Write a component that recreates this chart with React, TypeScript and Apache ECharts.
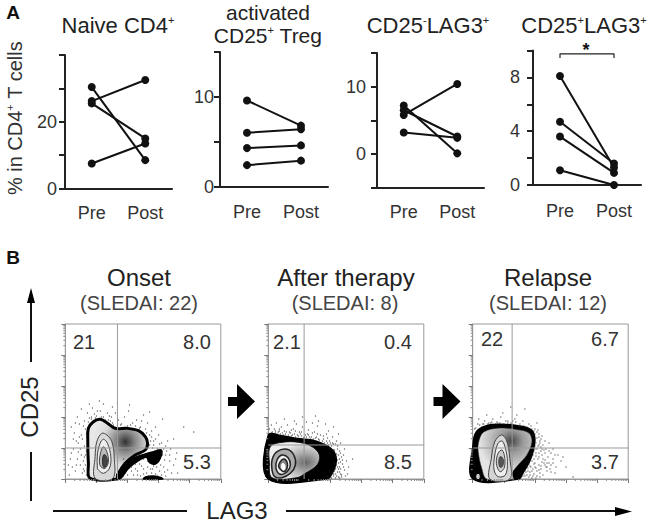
import React, { useEffect, useRef } from "react";
import * as echarts from "echarts";

const FONT = "Liberation Sans";
const categories = ["Pre", "Post"];

// Panel A: pre -> post pairs
const naiveSeries = [[30.4, 8.5], [25.5, 15], [26.2, 32.5], [7.5, 13.5]];
const tregSeries = [[9.6, 6.8], [6.0, 6.4], [4.3, 4.6], [2.4, 2.9]];
const cd25NegSeries = [[5.8, 10.4], [7.2, 0.1], [6.5, 2.6], [3.2, 2.4]];
const cd25PosSeries = [[8.1, 1.3], [4.7, 1.6], [3.6, 0.9], [1.1, 0.0]];
const bracketValues: [string, number][] = [["Pre", 9.44], ["Pre", 9.75], ["Post", 9.75], ["Post", 9.44]];

// Panel B: density outlines, in the plot's own 0-155 scale
const onsetOuter = [[24.7, 0.7], [23, 15.7], [22.4, 39], [23, 50.7], [28, 57.3], [34.7, 59.7], [41.4, 56.3], [49.7, 50.7], [61.4, 50.7], [73, 48.3], [79.7, 42.3], [82, 35.7], [79.7, 29], [69.7, 24], [59.7, 15.7], [52, 4], [51.4, 0]];
const onsetTail = [[51.4, 0.7], [59.7, 14], [69.7, 21.7], [82, 25.7], [88, 27.3], [95.7, 29], [94.7, 20.7], [89.7, 15], [84, 16.3], [80.7, 21.7], [73, 18.3], [63, 10.7], [55.4, 0.7]];
const onsetSpot = [[78, 0], [80, 2], [88, 3], [95, 1.5], [97, 0]];
const onsetR1 = [[29.7, 0.7], [29.7, 22.3], [31.4, 37.3], [36.4, 45.7], [41.4, 44], [46.4, 37.3], [48.7, 22.3], [47.4, 0.7]];
const onsetR2 = [[32, 10.7], [32, 24], [34.7, 35.7], [38, 39.7], [42, 35.7], [45.4, 22.3], [44, 10.7], [38, 5.7], [33, 9]];
const onsetR3 = [[34, 17.3], [35.4, 27.3], [38, 32.3], [41.4, 27.3], [43, 17.3], [39.7, 10.7], [35.4, 12.3]];
const onsetR4 = [[37, 18], [38, 24], [40, 24], [42, 18], [40, 12], [38, 12]];

const therapyHalo = [[0, 44], [13.7, 43.3], [27, 40.7], [43.7, 39], [57, 34], [65.4, 27.3], [67.7, 17.3], [63.7, 5.7], [58.7, 0], [0, 0]];
const therapyInner = [[2, 32.3], [13.7, 36.7], [30.4, 36.7], [43.7, 32.3], [51, 24], [48.7, 14], [37, 5.7], [28.7, 1.3], [3.7, 1.3], [1, 17.3]];
const therapyR1 = [[3.7, 9], [3.7, 19], [8.7, 27.3], [18.7, 29.7], [25.4, 24], [27, 14], [22, 5.7], [13.7, 1.3], [6.4, 2.3]];
const therapyR2 = [[7.7, 10.7], [8.7, 19], [13.7, 24], [19.7, 21.3], [22, 14], [18.7, 7.3], [12, 4.7]];
const therapyR3 = [[10.4, 12.3], [12, 17.3], [15.4, 20], [18.7, 16.7], [18.7, 10.7], [15.4, 7.3]];
const therapyR4 = [[13, 12.3], [14.4, 15.7], [16.4, 14], [16.4, 9.7], [14.4, 9]];

const relapseHalo = [[0.3, 0], [0.3, 34], [3.7, 47.3], [13.6, 53.3], [28.6, 54.7], [45.3, 53.3], [58.6, 49], [62, 40], [60, 27], [56.5, 17], [50, 6], [46, 0]];
const relapseInner = [[6, 37.3], [11, 47], [27, 51], [43.6, 49.5], [56, 46], [59, 37.3], [54, 24], [45.3, 14], [39.3, 5.7], [40.3, 0], [14, 0], [9, 10.7], [5.5, 27.3]];
const relapseSpot = [[3.6, 0], [3.6, 5], [7, 5], [7, 0]];
const relapseR1 = [[17, 0], [18.6, 20.7], [22, 37.3], [28.6, 44], [33.6, 39], [37, 20.7], [37, 0]];
const relapseR2 = [[21.3, 9], [22, 24], [25.3, 35.7], [29.3, 38], [32.6, 30.7], [34.6, 17.3], [32.6, 4], [25.3, 2.3]];
const relapseR3 = [[23.6, 15.7], [25.3, 25.7], [29.3, 29], [32, 20.7], [31.3, 10.7], [27, 7.3]];
const relapseR4 = [[26, 17.3], [27, 22], [29, 22], [31, 17], [29, 12], [27, 12]];

// Panel B: stray events
const onsetDots = [[6,52],[9,46],[11,38],[8,30],[13,27],[5,20],[15,14],[10,8],[17,6],[4,4],[19,33],[16,44],[14,55],[19,58],[12,62],[22,66],[27,71],[31,63],[35,68],[38,75],[42,66],[46,62],[50,66],[53,59],[56,55],[59,62],[63,68],[67,56],[71,59],[75,52],[78,64],[82,56],[86,48],[90,52],[84,67],[93,44],[88,38],[96,36],[100,33],[105,30],[92,30],[88,34],[100,24],[104,18],[98,12],[94,8],[90,5],[85,10],[81,6],[76,13],[72,8],[68,4],[64,11],[60,6],[70,15],[78,20],[88,13],[96,4],[102,9],[108,14],[111,26],[58,20],[20,24],[18,18],[13,36],[7,12],[24,61],[29,65],[33,60],[40,59],[45,58],[48,54],[20,50],[17,40],[15,30],[12,20],[18,10],[21,4],[26,62],[36,62],[52,54],[62,53],[70,53],[80,50],[84,44],[86,42],[84,34],[90,40],[74,24],[82,18],[92,18],[66,12],[58,3],[75,3],[83,3],[100,3],[112,6],[121,20],[128,47],[118,52],[47,72],[24,75],[16,70],[34,78],[64,74],[97,60],[108,40],
  [21,28],[19,22],[20,14],[19,8],[22,10],[16,24],[14,42],[21,45],[18,53],[23,57],[26,60],[30,61],[38,62],[43,59],[47,56],[55,54],[65,54],[74,51],[81,46],[85,38],[87,31],[98,30],[101,28],[97,24],[99,19],[95,14],[91,12],[87,10],[82,12],[78,10],[74,15],[70,10],[66,8],[62,4],[56,8],[60,13],[72,4],[78,5],[86,6],[92,3],[99,7],[106,6],[104,24],[110,20],[94,35],[102,38],[76,58],[44,63],[32,68],[10,56],[8,40],[6,26],[3,14],[11,14]];
const therapyDots = [[3,46],[6,50],[10,47],[13,52],[16,48],[19,54],[22,46],[25,50],[28,55],[31,47],[34,52],[37,44],[40,49],[43,42],[46,47],[49,53],[52,44],[55,40],[58,45],[61,38],[64,42],[67,35],[69,30],[72,26],[71,20],[74,15],[70,10],[67,5],[73,4],[76,9],[78,18],[75,24],[68,38],[60,48],[44,56],[38,57],[26,58],[8,56],[3,54],[12,45],[20,44],[29,44],[36,42],[48,42],[54,38],[59,36],[63,33],[66,29],[68,25],[70,16],[69,12],[65,3],[62,2],[80,12],[84,20],[76,30],[72,36],[50,58],[47,63],[34,62],[16,60],[57,55],[65,52],[70,45],[1,50],[5,44],[15,44],[24,44],[33,43],[41,42],[50,40],[58,38],[64,36],[67,22],[66,16],[61,8],[64,6],[71,7],[73,2],[77,3],[59,3],
  [2,45],[4,47],[7,46],[9,45],[11,48],[14,46],[17,45],[21,47],[23,43],[26,45],[27,42],[30,43],[32,45],[35,41],[38,42],[39,45],[42,40],[45,40],[47,41],[51,39],[53,36],[56,36],[60,34],[61,31],[63,30],[65,29],[66,27],[68,22],[69,19],[68,14],[67,10],[66,8],[65,5],[68,3],[70,2],[72,5],[69,7],[71,12],[72,17],[73,22],[71,28],[69,33],[65,35],[62,36],[59,41],[55,43],[49,45],[44,46],[40,44],[33,47],[27,48],[23,49],[18,47],[11,50],[7,48],[70,24],[74,19],[75,12],[72,10],[79,5],[60,1],[63,1],[67,1],[71,1]];
const relapseDots = [[2,50],[5,55],[9,52],[12,58],[16,56],[20,60],[24,57],[28,62],[33,58],[38,56],[42,60],[47,55],[50,58],[54,52],[58,53],[62,50],[66,45],[68,40],[65,33],[70,34],[68,28],[72,26],[66,22],[70,20],[75,22],[78,26],[62,16],[66,14],[72,14],[76,16],[80,20],[60,10],[64,8],[68,10],[74,8],[57,4],[60,3],[64,3],[70,4],[78,7],[83,12],[85,24],[88,18],[55,8],[52,3],[73,30],[76,36],[60,44],[30,66],[14,64],[6,60],[44,64],[64,56],[1,42],[1,28],[1,15],[2,6],[67,36],[63,26],[61,20],[58,12],[54,4],[40,58],[35,56],[25,56],[18,56],[10,55],[56,55],[69,30],[71,16],[74,12],[67,6],[62,12],[78,14],[82,6],[90,22],[93,12],[52,70],[38,72],[100,2],
  [3,51],[7,54],[11,55],[15,55],[19,57],[23,55],[27,56],[31,55],[35,58],[39,55],[43,57],[46,53],[51,53],[55,51],[59,50],[61,48],[64,47],[66,42],[67,38],[66,34],[64,30],[66,26],[63,23],[65,20],[61,15],[63,11],[59,8],[57,7],[61,5],[56,2],[59,1],[63,1],[67,2],[66,9],[68,13],[69,17],[72,19],[69,24],[71,29],[68,32],[72,38],[69,43],[62,45],[65,49],[73,12],[74,16],[77,10],[80,16],[82,24],[80,30],[76,28],
  [58,22],[59,18],[57,13],[55,11],[53,7],[50,3],[48,2],[52,9],[56,15],[60,24],[62,30],[63,36],[64,41],[60,30],[58,26],[55,18],[51,5],[54,13],[61,28],[62,33]];

const radial = (x: number, y: number, r: number, stops: [number, string][]) =>
  new echarts.graphic.RadialGradient(x, y, r, stops.map(([offset, color]) => ({ offset, color })));

const gridsA = [
  { left: 65, top: 55, width: 107, height: 133.5 },
  { left: 220, top: 52, width: 108, height: 134.7 },
  { left: 377, top: 53, width: 107, height: 134.7 },
  { left: 533, top: 50.5, width: 108, height: 134.5 },
];
const gridsB = [
  { left: 65.3, top: 324, width: 155.5, height: 155 },
  { left: 268.3, top: 324, width: 155.5, height: 155 },
  { left: 472.7, top: 324, width: 155.5, height: 155 },
];

const logTicks: number[] = [];
for (let d = 0; d < 5; d++) {
  for (let k = 2; k < 10; k++) logTicks.push((d + Math.log10(k)) * 31);
}

function axesA(i: number, min: number, max: number, interval: number, labels: number[], xMargin: number, yMargin: number) {
  const x = {
    type: "category", gridIndex: i, data: categories, boundaryGap: true,
    axisLine: { onZero: false, lineStyle: { color: "#222", width: 2 } },
    axisTick: { alignWithLabel: true, length: 6, lineStyle: { color: "#222", width: 2 } },
    axisLabel: { fontFamily: FONT, fontSize: 18, color: "#333", margin: xMargin, interval: 0 },
  };
  const y = {
    type: "value", gridIndex: i, min, max, interval, splitLine: { show: false },
    axisLine: { show: true, lineStyle: { color: "#222", width: 2 } },
    axisTick: { show: true, length: 6, lineStyle: { color: "#222", width: 2 } },
    axisLabel: {
      fontFamily: FONT, fontSize: 18, color: "#333", margin: yMargin,
      formatter: (v: number) => (labels.includes(v) ? String(v) : ""),
    },
  };
  return { x, y };
}

function axesB(i: number) {
  const base = {
    type: "value", gridIndex: i, min: 0, max: 155, interval: 31, splitLine: { show: false },
    axisLine: { show: true, lineStyle: { color: "#999", width: 1 } },
    axisTick: { show: true, length: 4, lineStyle: { color: "#777", width: 1 } },
    axisLabel: { show: false },
  };
  return { x: { ...base }, y: { ...base } };
}

export default function App() {
  const ref = useRef<HTMLDivElement>(null);
  useEffect(() => {
    document.body.style.margin = "0";
    const chart = echarts.init(ref.current!, null, { renderer: "svg" });

    const thick = { stroke: "#000", lineWidth: 3 };
    const ring = { stroke: "#444", lineWidth: 1 };
    const solid = { fill: "#000", stroke: "#000", lineWidth: 1.5 };

    const contourLayers: [number[][], any][][] = [
      [
        [onsetOuter, { ...thick, fill: radial(0.63, 0.37, 0.55, [[0, "#333"], [0.3, "#888"], [0.7, "#ddd"], [1, "#e8e8e8"]]) }],
        [onsetTail, solid],
        [onsetSpot, solid],
        [onsetR1, { ...ring, fill: "#d8d8d8" }],
        [onsetR2, { ...ring, fill: "#eee" }],
        [onsetR3, { ...ring, fill: "#bbb" }],
        [onsetR4, { stroke: "#333", lineWidth: 1, fill: "#444" }],
      ],
      [
        [therapyHalo, solid],
        [therapyInner, { stroke: "#111", lineWidth: 1, fill: radial(0.72, 0.55, 0.55, [[0, "#666"], [0.45, "#aaa"], [1, "#eee"]]) }],
        [therapyR1, { stroke: "#222", lineWidth: 1.5, fill: "#aaa" }],
        [therapyR2, { stroke: "#222", lineWidth: 1.5, fill: "#eee" }],
        [therapyR3, { stroke: "#222", lineWidth: 1.5, fill: "#888" }],
        [therapyR4, { stroke: "#fff", lineWidth: 1, fill: "#fff" }],
      ],
      [
        [relapseHalo, solid],
        [relapseInner, { stroke: "#222", lineWidth: 0.5, fill: radial(0.62, 0.25, 0.6, [[0, "#444"], [0.35, "#999"], [1, "#e4e4e4"]]) }],
        [relapseSpot, { fill: "#ccc", stroke: "#000", lineWidth: 1 }],
        [relapseR1, { ...ring, fill: "#d4d4d4" }],
        [relapseR2, { ...ring, fill: "#eee" }],
        [relapseR3, { ...ring, fill: "#ccc" }],
        [relapseR4, { stroke: "#444", lineWidth: 1, fill: "#555" }],
      ],
    ];

    const series: any[] = [];
    const xAxis: any[] = [];
    const yAxis: any[] = [];

    const panels: [number[][], number, number, number, number[], number, number][] = [
      [naiveSeries, 0, 40, 10, [0, 20], 15, 8],
      [tregSeries, 0, 15, 5, [0, 10], 16, 6],
      [cd25NegSeries, -5, 15, 5, [0, 10], 15, 11],
      [cd25PosSeries, 0, 10, 2, [0, 4, 8], 17, 13],
    ];
    panels.forEach(([rows, min, max, interval, labels, xm, ym], i) => {
      const { x, y } = axesA(i, min, max, interval, labels, xm, ym);
      xAxis.push(x);
      yAxis.push(y);
      rows.forEach((values) => {
        series.push({
          type: "line", xAxisIndex: i, yAxisIndex: i, data: values, symbol: "circle", symbolSize: 8,
          lineStyle: { color: "#111", width: 2 }, itemStyle: { color: "#111" },
        });
      });
    });
    series.push({
      type: "line", xAxisIndex: 3, yAxisIndex: 3, data: bracketValues, symbol: "none",
      lineStyle: { color: "#222", width: 1.2 },
    });

    const gates = [[52, 31], [35.7, 34], [39.3, 31]];
    const dots = [onsetDots, therapyDots, relapseDots];
    gridsB.forEach((_, p) => {
      const i = p + 4;
      const { x, y } = axesB(i);
      xAxis.push(x);
      yAxis.push(y);
      series.push({
        type: "scatter", xAxisIndex: i, yAxisIndex: i, data: dots[p], symbol: "circle", symbolSize: 1.3,
        itemStyle: { color: "#222", opacity: 0.75 }, silent: true,
      });
      const layers = contourLayers[p];
      series.push({
        type: "custom", xAxisIndex: i, yAxisIndex: i, coordinateSystem: "cartesian2d", silent: true,
        data: layers.map((_l, k) => [k]),
        encode: { x: -1, y: -1 },
        renderItem: (_params: any, api: any) => {
          const [points, style] = layers[api.value(0)];
          return {
            type: "polygon",
            shape: { points: points.map((pt) => api.coord(pt)), smooth: 0.35 },
            style,
          };
        },
      });
      series.push({
        type: "custom", xAxisIndex: i, yAxisIndex: i, coordinateSystem: "cartesian2d", silent: true,
        data: logTicks.map((v) => [v]),
        encode: { x: -1, y: -1 },
        renderItem: (_params: any, api: any) => {
          const v = api.value(0);
          const a = api.coord([v, 0]);
          const b = api.coord([0, v]);
          const style = { stroke: "#888", lineWidth: 1 };
          return {
            type: "group",
            children: [
              { type: "line", shape: { x1: a[0], y1: a[1], x2: a[0], y2: a[1] + 2 }, style },
              { type: "line", shape: { x1: b[0], y1: b[1], x2: b[0] - 2, y2: b[1] }, style },
            ],
          };
        },
      });
      const [gx, gy] = gates[p];
      const gate = { color: "#999", width: 1 };
      series.push({ type: "line", xAxisIndex: i, yAxisIndex: i, symbol: "none", lineStyle: gate, data: [[gx, 0], [gx, 155]] });
      series.push({ type: "line", xAxisIndex: i, yAxisIndex: i, symbol: "none", lineStyle: gate, data: [[0, gy], [155.5, gy]] });
    });

    const richTitle = (fontSize: number, lineHeight: number) => ({
      fontFamily: FONT, fontSize, fontWeight: "normal", color: "#222", lineHeight,
      rich: {
        sup: { fontFamily: FONT, fontSize: 11, color: "#222", verticalAlign: "top", lineHeight },
      },
    });
    const titleAt = (text: string, left: number, top: number, fontSize = 22, lineHeight = 22) => ({
      text, left, top, textAlign: "center", padding: 0, textStyle: richTitle(fontSize, lineHeight),
    });

    const label = (text: string, x: number, y: number, fontSize: number, fill = "#222", fontWeight = "normal") => ({
      type: "text", x, y,
      style: { text, fontFamily: FONT, fontSize, fill, fontWeight, textAlign: "center", textVerticalAlign: "middle" },
    });
    const blackLine = (x1: number, y1: number, x2: number, y2: number) => ({
      type: "line", shape: { x1, y1, x2, y2 }, style: { stroke: "#111", lineWidth: 2 },
    });
    const poly = (points: number[][]) => ({ type: "polygon", shape: { points }, style: { fill: "#000" } });
    const block = (x: number) =>
      poly([[x, 397], [x + 9, 397], [x + 9, 384], [x + 27, 401.5], [x + 9, 419], [x + 9, 406], [x, 406]]);

    chart.setOption({
      animation: false,
      backgroundColor: "#fff",
      grid: [...gridsA, ...gridsB.map((g) => ({ ...g, show: true, borderColor: "#999", borderWidth: 1, backgroundColor: "transparent" }))],
      title: [
        titleAt("Naive CD4{sup|+}", 118, 14),
        titleAt("activated\nCD25{sup|+} Treg", 268, 1, 21, 23),
        titleAt("CD25{sup|-}LAG3{sup|+}", 428, 14),
        titleAt("CD25{sup|+}LAG3{sup|+}", 584, 14),
      ],
      xAxis, yAxis, series,
      graphic: [
        {
          type: "text", x: 15, y: 118, rotation: Math.PI / 2,
          style: {
            text: "% in CD4{sup|+} T cells", fontFamily: FONT, fontSize: 20, fill: "#333",
            textAlign: "center", textVerticalAlign: "middle",
            rich: { sup: { fontFamily: FONT, fontSize: 11, fill: "#333", verticalAlign: "top", lineHeight: 22 } },
          },
        },
        label("A", 13, 12, 19, "#111", "bold"),
        label("B", 13, 257, 19, "#111", "bold"),
        label("*", 586, 50, 18, "#111", "bold"),
        label("Onset", 139, 277, 24),
        label("(SLEDAI: 22)", 139, 303, 20, "#444"),
        label("After therapy", 346, 277, 24),
        label("(SLEDAI: 8)", 345, 303, 20, "#444"),
        label("Relapse", 548, 277, 24),
        label("(SLEDAI: 12)", 548, 303, 20, "#444"),
        label("21", 84, 342, 20, "#333"),
        label("8.0", 197, 342, 20, "#333"),
        label("5.3", 197, 462, 20, "#333"),
        label("2.1", 287, 342, 20, "#333"),
        label("0.4", 398, 342, 20, "#333"),
        label("8.5", 398, 462, 20, "#333"),
        label("22", 492, 339, 20, "#333"),
        label("6.7", 605, 339, 20, "#333"),
        label("3.7", 605, 462, 20, "#333"),
        block(228),
        block(433.5),
        { ...label("CD25", 29, 407, 24), rotation: Math.PI / 2 },
        label("LAG3", 237, 510, 24),
        blackLine(31, 302, 31, 362),
        poly([[31, 288], [27, 303], [35, 303]]),
        blackLine(31, 452, 31, 501),
        blackLine(53, 511, 187, 511),
        blackLine(286, 511, 618, 511),
        poly([[632, 511.5], [615, 507], [615, 516]]),
      ],
    });
    return () => chart.dispose();
  }, []);
  return <div ref={ref} style={{ position: "absolute", left: 0, top: 0, width: 653, height: 522 }} />;
}
